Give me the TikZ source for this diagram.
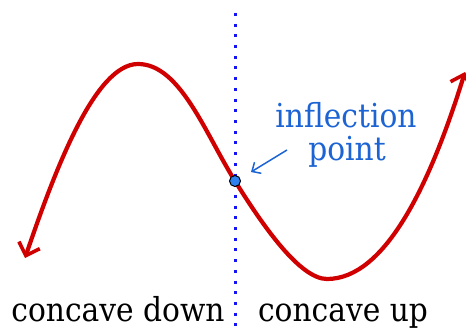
\documentclass[tikz,border=0pt]{standalone}
\usepackage{fontspec}
\setmainfont{DejaVu Serif}[FakeStretch=0.9]
\usetikzlibrary{arrows.meta}
\definecolor{curvered}{RGB}{208,0,0}
\definecolor{labelblue}{RGB}{28,100,212}
\definecolor{dotblue}{RGB}{20,20,245}
\definecolor{ptfill}{RGB}{45,130,240}
\tikzset{
  curve/.style={draw=curvered, line width=4.2pt, line join=round,
    {Straight Barb[length=11pt,width=22pt,line width=3.6pt]}-{Straight Barb[length=11pt,width=22pt,line width=3.6pt]}},
  divider/.style={draw=dotblue, line width=3pt, dash pattern=on 3pt off 7.7pt},
  blacklabel/.style={inner sep=0pt, anchor=base, font=\fontsize{33}{33}\selectfont, text=black},
  bluelabel/.style={inner sep=0pt, anchor=base, font=\fontsize{33}{33}\selectfont, text=labelblue},
  pointer/.style={draw=labelblue, line width=1.5pt, -{Straight Barb[length=7pt,width=13pt,line width=1.5pt]}},
  ipoint/.style={circle, fill=ptfill, draw=black, line width=1pt, minimum size=11pt, inner sep=0pt}
}
\begin{document}
\begin{tikzpicture}[x=1pt,y=-1pt]
\useasboundingbox (0,0) rectangle (466,329);
\draw[divider] (235,13) -- (235,329);
\coordinate (leftend) at (25,258);
\coordinate (peak) at (138,64);
\coordinate (infl) at (235,181);
\coordinate (trough) at (327,279);
\coordinate (rightend) at (465,72);
\draw[curve] (leftend) .. controls (55,170) and (95,64) .. (peak)
  .. controls (180,64) and (205,133) .. (infl)
  .. controls (263,226) and (300,279) .. (trough)
  .. controls (385,279) and (430,185) .. (rightend);
\node[ipoint] (ip) at (infl) {};
\node[bluelabel] (lab1) at (346,128) {inflection};
\node[bluelabel] (lab2) at (347,160) {point};
\coordinate (ptrstart) at (287,150);
\coordinate (ptrend) at (251,172);
\draw[pointer] (ptrstart) -- (ptrend);
\node[blacklabel] (cd) at (118,321) {concave down};
\node[blacklabel] (cu) at (343,321) {concave up};
\end{tikzpicture}
\end{document}
